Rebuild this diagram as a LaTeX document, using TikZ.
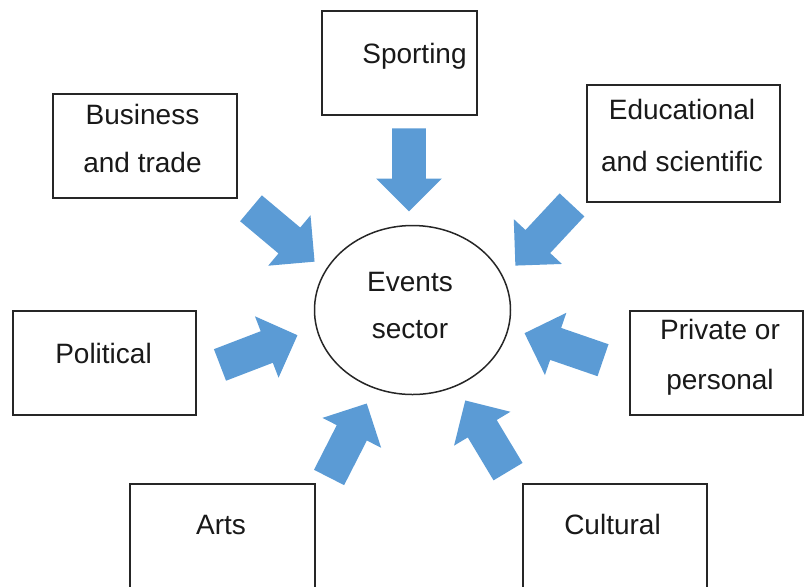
\documentclass[tikz,border=0pt]{standalone}
\usepackage{fontspec}
\setmainfont{Liberation Sans}
\usetikzlibrary{shapes.arrows, shapes.geometric}
\definecolor{evblue}{HTML}{5B9BD5}
\tikzset{
    box/.style={
           rectangle,
           draw=black!85, line width=1pt,
           inner sep=0pt,
           },
    hub/.style={
           ellipse,
           draw=black!85, line width=0.75pt,
           inner sep=0pt,
           },
    caption/.style={
           align=center,
           inner sep=0pt,
           font=\fontsize{14}{24}\selectfont,
           text=black!90,
           },
    feeder/.style={
           single arrow,
           fill=evblue, draw=none,
           minimum height=41.5pt,
           inner xsep=0pt, inner ysep=8.25pt,
           single arrow head extend=8pt,
           single arrow tip angle=90,
           anchor=tip,
           },
}

\begin{document}
\begin{tikzpicture}[x=0.5pt, y=-0.5pt]
  \useasboundingbox (0,0) rectangle (805,586);
  \clip (0,0) rectangle (805,586);

  % the sector in the middle
  \node[hub, minimum width=98pt, minimum height=84.5pt]   (Sector)      at (412.5,310)  {};
  \node[caption, font=\fontsize{14}{23.5}\selectfont]     (SectorText)  at (410,305.5)  {Events\\sector};

  % the kinds of event round it
  \node[box, minimum width=77.5pt, minimum height=52pt]   (Sporting)    at (399.5,63)   {};
  \node[box, minimum width=92pt, minimum height=52pt]     (Business)    at (145,146)    {};
  \node[box, minimum width=96.5pt, minimum height=58.5pt] (Educational) at (683.5,143.5) {};
  \node[box, minimum width=91.5pt, minimum height=52pt]   (Political)   at (104.5,363)  {};
  \node[box, minimum width=86.5pt, minimum height=52pt]   (Private)     at (716,363)    {};
  \node[box, minimum width=92.5pt, minimum height=52pt]   (Arts)        at (222.5,536)  {};
  \node[box, minimum width=92pt, minimum height=52pt]     (Cultural)    at (614.5,536)  {};

  \node[caption, anchor=base]                             (SportingText)    at (414.5,63)  {Sporting};
  \node[caption]                                          (BusinessText)    at (142.5,138) {Business\\and trade};
  \node[caption, font=\fontsize{14}{26}\selectfont]       (EducationalText) at (682,135)   {Educational\\and scientific};
  \node[caption, anchor=base]                             (PoliticalText)   at (103.5,363) {Political};
  \node[caption, font=\fontsize{14}{25}\selectfont]       (PrivateText)     at (720,357)   {Private or\\personal};
  \node[caption, anchor=base]                             (ArtsText)        at (221,534)   {Arts};
  \node[caption, anchor=base]                             (CulturalText)    at (612.5,534) {Cultural};

  % block arrows pointing in, placed by their tips
  \node[feeder, rotate=-90]  (toSporting)    at (409,212) {};
  \node[feeder, rotate=-40]  (toBusiness)    at (315,262) {};
  \node[feeder, rotate=-133] (toEducational) at (515,266) {};
  \node[feeder, rotate=21]   (toPolitical)   at (298,335) {};
  \node[feeder, rotate=161]  (toPrivate)     at (524,333) {};
  \node[feeder, rotate=63]   (toArts)        at (367,403) {};
  \node[feeder, rotate=121]  (toCultural)    at (465,400) {};

\end{tikzpicture}
\end{document}
